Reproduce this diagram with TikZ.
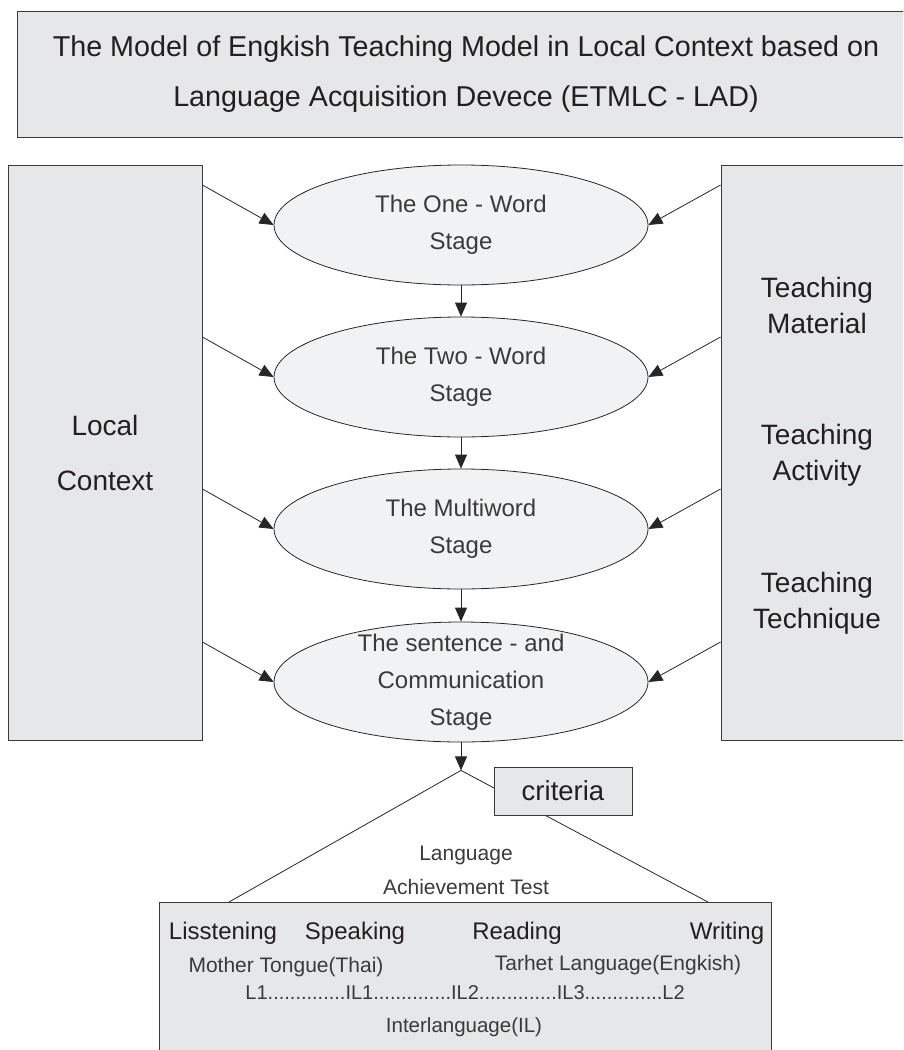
\documentclass[tikz,border=0pt]{standalone}
\usepackage{fontspec}
\setmainfont{Liberation Sans}
\usepackage{xcolor}
\usepackage{tikz}
\usetikzlibrary{shapes,arrows.meta,calc,positioning}

\definecolor{boxGray}{HTML}{E6E7E8}
\definecolor{stageGray}{HTML}{F1F2F3}
\definecolor{lineGray}{HTML}{3A3A3A}
\definecolor{textDark}{HTML}{231F20}
\definecolor{textGray}{HTML}{3A3A3A}

\begin{document}
\begin{tikzpicture}[x=1pt, y=-1pt,
        box/.style={draw=lineGray, line width=0.9pt, fill=boxGray, inner sep=0pt},
        stage/.style={ellipse, draw=black!85, line width=0.8pt, fill=stageGray,
                minimum width=374pt, minimum height=120pt,
                inner xsep=0pt, inner ysep=-14pt, align=center, text=textGray,
                font=\fontsize{24}{37}\selectfont},
        link/.style={-{Triangle[length=14pt,width=12pt]}, line width=0.8pt, draw=black!85},
        edge/.style={line width=0.8pt, draw=black!85}]

        % Page frame
        \useasboundingbox (0,0) rectangle (903,1050);
        \clip (0,0) rectangle (903,1050);

        % Title
        \node[  box,
                minimum width=898pt,
                minimum height=126pt,
                align=center, text=textDark,
                font=\fontsize{28.7}{50}\selectfont ] (title) at (466,74)
                {The Model of Engkish Teaching Model in Local Context based on\\Language Acquisition Devece (ETMLC - LAD)};

        % Side boxes
        \node[  box,
                minimum width=194pt,
                minimum height=575pt,
                align=center, text=textDark,
                font=\fontsize{28}{55}\selectfont ] (local) at (105,452.5) {Local\\Context};

        \node[  box,
                minimum width=194pt,
                minimum height=575pt ] (teach) at (818,452.5) {};

        \node[align=center, text=textDark, font=\fontsize{28}{36}\selectfont] (material) at (817,305) {Teaching\\Material};
        \node[align=center, text=textDark, font=\fontsize{28}{36}\selectfont] (activity) at (817,455) {Teaching\\Activity};
        \node[align=center, text=textDark, font=\fontsize{28}{36}\selectfont] (technique) at (817,603) {Teaching\\Technique};

        % Stages
        \node[stage] (one) at (461,225) {The One - Word\\Stage};
        \node[stage] (two) at (461,377) {The Two - Word\\Stage};
        \node[stage] (multi) at (461,529) {The Multiword\\Stage};
        \node[stage] (sent) at (461,682) {The sentence - and\\Communication\\Stage};

        % Inputs from both sides
        \foreach \s in {one,two,multi,sent} {
            \draw[link] ([yshift=40pt]\s.west -| local.east) -- (\s.west);
            \draw[link] ([yshift=40pt]\s.east -| teach.west) -- (\s.east);
        }

        % Stage to stage
        \draw[link] (one.south) -- (two.north);
        \draw[link] (two.south) -- (multi.north);
        \draw[link] (multi.south) -- (sent.north);

        % Achievement test
        \coordinate (apex) at ($(sent.south)+(0,28)$);
        \draw[link] (sent.south) -- (apex);

        \node[  box,
                minimum width=612pt,
                minimum height=170pt,
                anchor=north west ] (skills) at (159,902) {};

        \coordinate (footL) at ($(skills.north west)+(70,0)$);
        \coordinate (footR) at ($(skills.north east)+(-64,0)$);
        \draw[edge] (footL) -- (apex) -- (footR);

        \node[  box,
                minimum width=138pt,
                minimum height=48pt,
                text=textDark,
                font=\fontsize{27.5}{30}\selectfont ] (criteria) at (563,791) {criteria};

        \node[align=center, text=textGray, font=\fontsize{21}{34}\selectfont] (test) at (466,870) {Language\\Achievement Test};

        % Skills
        \node[text=textDark, font=\fontsize{24}{28}\selectfont] (listen) at (223,933) {Lisstening};
        \node[text=textDark, font=\fontsize{24}{28}\selectfont] (speak) at (355,933) {Speaking};
        \node[text=textDark, font=\fontsize{24}{28}\selectfont] (read) at (517,933) {Reading};
        \node[text=textDark, font=\fontsize{24}{28}\selectfont] (write) at (727,933) {Writing};

        \node[text=textGray, font=\fontsize{21}{24}\selectfont] (mother) at (286,967) {Mother Tongue(Thai)};
        \node[text=textGray, font=\fontsize{21}{24}\selectfont] (target) at (618,965) {Tarhet Language(Engkish)};
        \node[text=textGray, font=\fontsize{20}{24}\selectfont] (steps) at (465,993)
                {L1..............IL1..............IL2..............IL3..............L2};
        \node[text=textGray, font=\fontsize{20.5}{24}\selectfont] (inter) at (464,1027) {Interlanguage(IL)};

\end{tikzpicture}
\end{document}
